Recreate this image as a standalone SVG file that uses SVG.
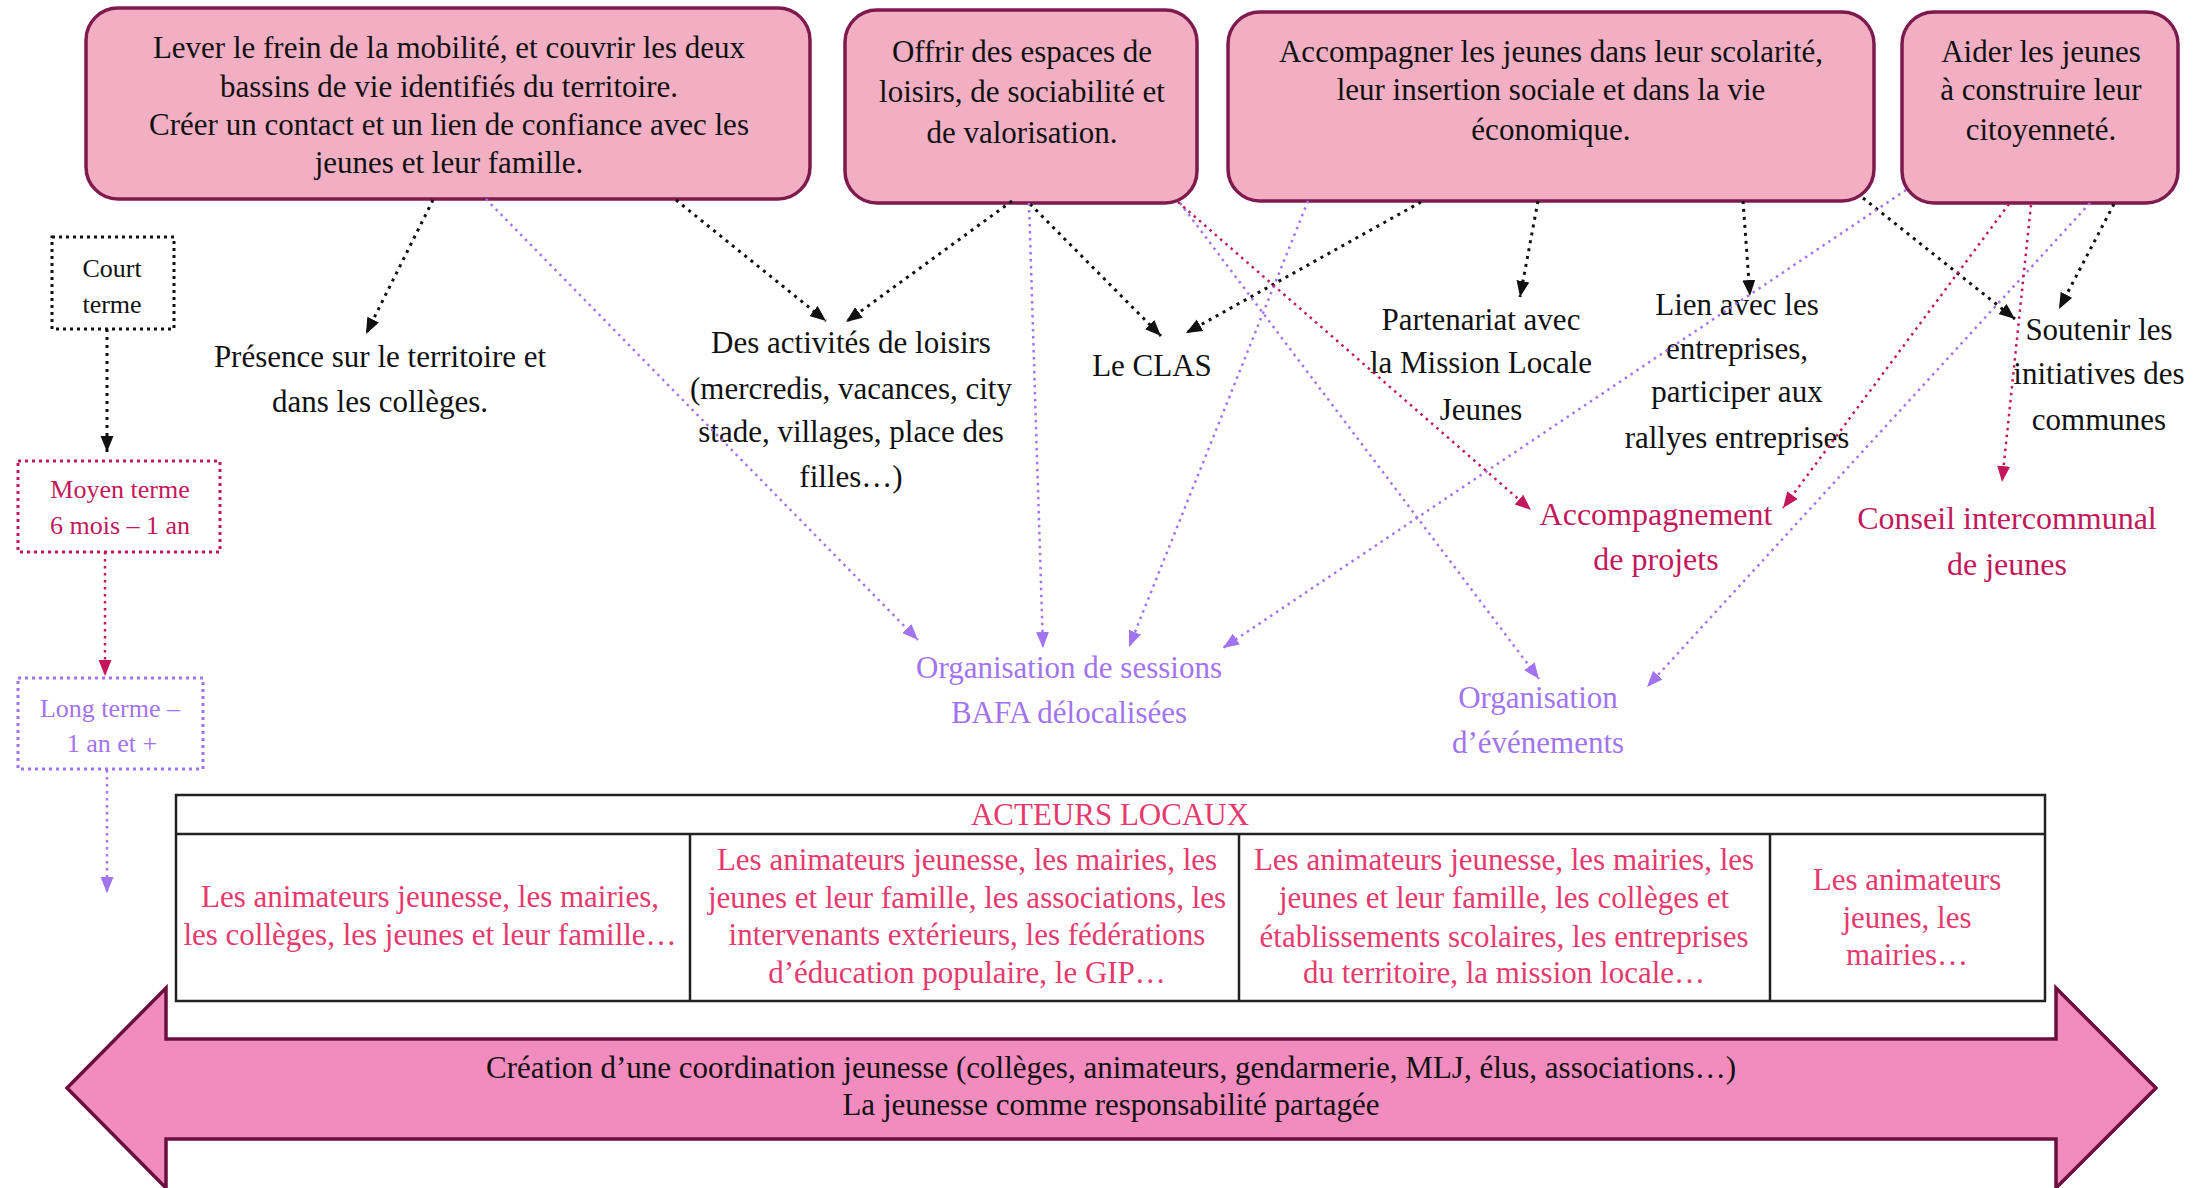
<svg xmlns="http://www.w3.org/2000/svg" width="2203" height="1188" viewBox="0 0 2203 1188">
<style>
text{font-family:"Liberation Serif","Times New Roman",serif;text-anchor:middle}
.box{fill:#F2AFC3;stroke:#7E1A4E;stroke-width:3.5}
.bt{font-size:31px;fill:#111}
.nt{font-size:31px;fill:#111}
.ct{font-size:32px;fill:#C2185B}
.pt{font-size:31px;fill:#A274F0}
.tt{font-size:31px;fill:#E63A6E}
.lt{font-size:26px}
.kl{fill:none;stroke:#111;stroke-width:3;stroke-dasharray:3 5}
.pl{fill:none;stroke:#A274F0;stroke-width:2.5;stroke-dasharray:2.5 4.5}
.cl{fill:none;stroke:#C2185B;stroke-width:2.5;stroke-dasharray:2.5 4.5}
.tbl{fill:none;stroke:#222;stroke-width:2.5}
</style>
<defs>
<marker id="mk" markerUnits="userSpaceOnUse" markerWidth="17" markerHeight="14" refX="16" refY="6.5" orient="auto"><path d="M0,0 L16,6.5 L0,13 z" fill="#111"/></marker>
<marker id="mp" markerUnits="userSpaceOnUse" markerWidth="17" markerHeight="14" refX="16" refY="6.5" orient="auto"><path d="M0,0 L16,6.5 L0,13 z" fill="#A274F0"/></marker>
<marker id="mc" markerUnits="userSpaceOnUse" markerWidth="17" markerHeight="14" refX="16" refY="6.5" orient="auto"><path d="M0,0 L16,6.5 L0,13 z" fill="#C2185B"/></marker>
</defs>
<rect width="2203" height="1188" fill="#fff"/>

<g id="box-mobilite">
<rect class="box" x="86" y="8" width="724" height="191" rx="32"/>
<text class="bt" x="449" y="58">Lever le frein de la mobilité, et couvrir les deux</text>
<text class="bt" x="449" y="97">bassins de vie identifiés du territoire.</text>
<text class="bt" x="449" y="135">Créer un contact et un lien de confiance avec les</text>
<text class="bt" x="449" y="173">jeunes et leur famille.</text>
</g>
<g id="box-loisirs">
<rect class="box" x="845" y="10" width="352" height="193" rx="32"/>
<text class="bt" x="1022" y="62">Offrir des espaces de</text>
<text class="bt" x="1022" y="102">loisirs, de sociabilité et</text>
<text class="bt" x="1022" y="143">de valorisation.</text>
</g>
<g id="box-scolarite">
<rect class="box" x="1228" y="12" width="646" height="189" rx="32"/>
<text class="bt" x="1551" y="62">Accompagner les jeunes dans leur scolarité,</text>
<text class="bt" x="1551" y="100">leur insertion sociale et dans la vie</text>
<text class="bt" x="1551" y="140">économique.</text>
</g>
<g id="box-citoyennete">
<rect class="box" x="1902" y="12" width="276" height="191" rx="32"/>
<text class="bt" x="2041" y="62">Aider les jeunes</text>
<text class="bt" x="2041" y="100">à construire leur</text>
<text class="bt" x="2041" y="140">citoyenneté.</text>
</g>

<g id="court-terme">
<rect x="52" y="237" width="122" height="92" fill="none" stroke="#111" stroke-width="3" stroke-dasharray="3 4"/>
<text class="lt" x="112" y="277" fill="#111">Court</text>
<text class="lt" x="112" y="313" fill="#111">terme</text>
</g>
<g id="moyen-terme">
<rect x="18" y="461" width="202" height="91" fill="none" stroke="#C2185B" stroke-width="3" stroke-dasharray="3 4"/>
<text class="lt" x="120" y="498" fill="#C2185B">Moyen terme</text>
<text class="lt" x="120" y="534" fill="#C2185B">6 mois – 1 an</text>
</g>
<g id="long-terme">
<rect x="18" y="678" width="185" height="91" fill="none" stroke="#A274F0" stroke-width="3" stroke-dasharray="3 4"/>
<text class="lt" x="110" y="717" fill="#A274F0">Long terme –</text>
<text class="lt" x="112" y="752" fill="#A274F0">1 an et +</text>
</g>

<g id="presence">
<text class="nt" x="380" y="367">Présence sur le territoire et</text>
<text class="nt" x="380" y="412">dans les collèges.</text>
</g>
<g id="activites">
<text class="nt" x="851" y="353">Des activités de loisirs</text>
<text class="nt" x="851" y="399">(mercredis, vacances, city</text>
<text class="nt" x="851" y="442">stade, villages, place des</text>
<text class="nt" x="851" y="487">filles…)</text>
</g>
<g id="clas">
<text class="nt" x="1152" y="376">Le CLAS</text>
</g>
<g id="partenariat">
<text class="nt" x="1481" y="330">Partenariat avec</text>
<text class="nt" x="1481" y="373">la Mission Locale</text>
<text class="nt" x="1481" y="420">Jeunes</text>
</g>
<g id="lien-entreprises">
<text class="nt" x="1737" y="315">Lien avec les</text>
<text class="nt" x="1737" y="359">entreprises,</text>
<text class="nt" x="1737" y="402">participer aux</text>
<text class="nt" x="1737" y="448">rallyes entreprises</text>
</g>
<g id="soutenir">
<text class="nt" x="2099" y="340">Soutenir les</text>
<text class="nt" x="2099" y="384">initiatives des</text>
<text class="nt" x="2099" y="430">communes</text>
</g>
<g id="accompagnement">
<text class="ct" x="1656" y="525">Accompagnement</text>
<text class="ct" x="1656" y="570">de projets</text>
</g>
<g id="conseil">
<text class="ct" x="2007" y="529">Conseil intercommunal</text>
<text class="ct" x="2007" y="575">de jeunes</text>
</g>
<g id="bafa">
<text class="pt" x="1069" y="678">Organisation de sessions</text>
<text class="pt" x="1069" y="723">BAFA délocalisées</text>
</g>
<g id="evenements">
<text class="pt" x="1538" y="708">Organisation</text>
<text class="pt" x="1538" y="753">d’événements</text>
</g>

<g id="acteurs-locaux">
<rect class="tbl" x="176" y="795" width="1869" height="206"/>
<line class="tbl" x1="176" y1="834" x2="2045" y2="834"/>
<line class="tbl" x1="690" y1="834" x2="690" y2="1001"/>
<line class="tbl" x1="1239" y1="834" x2="1239" y2="1001"/>
<line class="tbl" x1="1770" y1="834" x2="1770" y2="1001"/>
<text class="tt" x="1110" y="825" font-size="32.5">ACTEURS LOCAUX</text>
<text class="tt" x="430" y="907">Les animateurs jeunesse, les mairies,</text>
<text class="tt" x="430" y="945">les collèges, les jeunes et leur famille…</text>
<text class="tt" x="967" y="870">Les animateurs jeunesse, les mairies, les</text>
<text class="tt" x="967" y="908">jeunes et leur famille, les associations, les</text>
<text class="tt" x="967" y="945">intervenants extérieurs, les fédérations</text>
<text class="tt" x="967" y="983">d’éducation populaire, le GIP…</text>
<text class="tt" x="1504" y="870">Les animateurs jeunesse, les mairies, les</text>
<text class="tt" x="1504" y="908">jeunes et leur famille, les collèges et</text>
<text class="tt" x="1504" y="947">établissements scolaires, les entreprises</text>
<text class="tt" x="1504" y="983">du territoire, la mission locale…</text>
<text class="tt" x="1907" y="890">Les animateurs</text>
<text class="tt" x="1907" y="928">jeunes, les</text>
<text class="tt" x="1907" y="965">mairies…</text>
</g>

<g id="coordination">
<polygon points="67,1088 166,988 166,1039 2056,1039 2056,988 2156,1088 2056,1188 2056,1139 166,1139 166,1188" fill="#F28BBE" stroke="#6A0F3E" stroke-width="3.5" stroke-linejoin="miter"/>
<text x="1111" y="1078" font-size="31" fill="#111">Création d’une coordination jeunesse (collèges, animateurs, gendarmerie, MLJ, élus, associations…)</text>
<text x="1111" y="1115" font-size="31" fill="#111">La jeunesse comme responsabilité partagée</text>
</g>

<g id="connectors">
<line class="kl" x1="433" y1="200" x2="366" y2="334" marker-end="url(#mk)"/>
<line class="kl" x1="676" y1="200" x2="826" y2="321" marker-end="url(#mk)"/>
<line class="kl" x1="1012" y1="201" x2="846" y2="322" marker-end="url(#mk)"/>
<line class="kl" x1="1030" y1="204" x2="1161" y2="336" marker-end="url(#mk)"/>
<line class="kl" x1="1421" y1="202" x2="1186" y2="333" marker-end="url(#mk)"/>
<line class="kl" x1="1538" y1="201" x2="1520" y2="297" marker-end="url(#mk)"/>
<line class="kl" x1="1743" y1="201" x2="1750" y2="296" marker-end="url(#mk)"/>
<line class="kl" x1="1863" y1="198" x2="2015" y2="319" marker-end="url(#mk)"/>
<line class="kl" x1="2114" y1="204" x2="2059" y2="309" marker-end="url(#mk)"/>
<line class="kl" x1="107" y1="329" x2="107" y2="452" marker-end="url(#mk)"/>
<line class="pl" x1="486" y1="199" x2="918" y2="640" marker-end="url(#mp)"/>
<line class="pl" x1="1029" y1="203" x2="1043" y2="648" marker-end="url(#mp)"/>
<line class="pl" x1="1308" y1="201" x2="1129" y2="647" marker-end="url(#mp)"/>
<line class="pl" x1="1906" y1="190" x2="1223" y2="648" marker-end="url(#mp)"/>
<line class="pl" x1="1180" y1="203" x2="1539" y2="679" marker-end="url(#mp)"/>
<line class="pl" x1="2090" y1="203" x2="1647" y2="687" marker-end="url(#mp)"/>
<line class="pl" x1="107" y1="770" x2="107" y2="893" marker-end="url(#mp)"/>
<line class="cl" x1="1178" y1="202" x2="1531" y2="510" marker-end="url(#mc)"/>
<line class="cl" x1="2009" y1="204" x2="1783" y2="508" marker-end="url(#mc)"/>
<line class="cl" x1="2031" y1="205" x2="2002" y2="482" marker-end="url(#mc)"/>
<line class="cl" x1="105" y1="552" x2="105" y2="676" marker-end="url(#mc)"/>
</g>
</svg>
